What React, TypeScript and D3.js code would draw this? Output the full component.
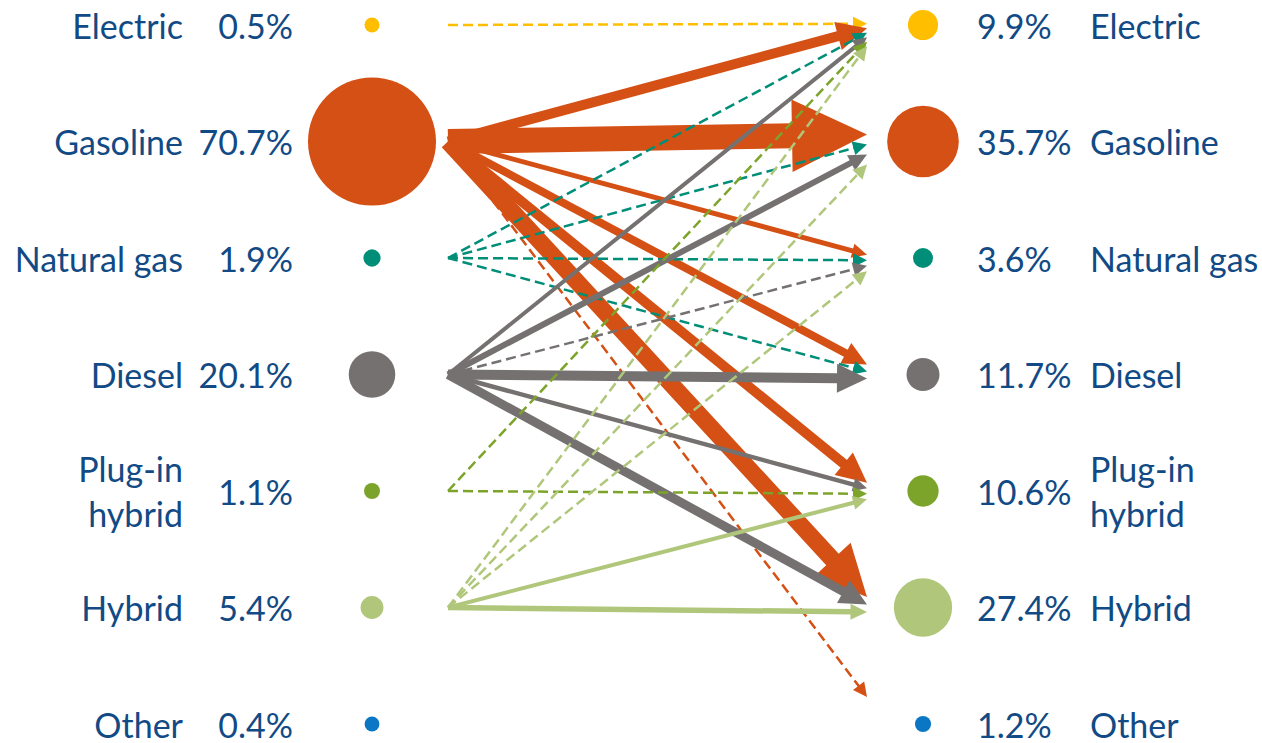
import React from "react";
import * as d3 from "d3";

// fuel categories, top to bottom
const fuels = ["Electric", "Gasoline", "Natural gas", "Diesel", "Plug-in hybrid", "Hybrid", "Other"];
const labelLines = [["Electric"], ["Gasoline"], ["Natural gas"], ["Diesel"], ["Plug-in", "hybrid"], ["Hybrid"], ["Other"]];

// share of fleet before / after
const shareBefore = [0.5, 70.7, 1.9, 20.1, 1.1, 5.4, 0.4];
const shareAfter = [9.9, 35.7, 3.6, 11.7, 10.6, 27.4, 1.2];
const shareBeforeText = ["0.5%", "70.7%", "1.9%", "20.1%", "1.1%", "5.4%", "0.4%"];
const shareAfterText = ["9.9%", "35.7%", "3.6%", "11.7%", "10.6%", "27.4%", "1.2%"];

// transitions (indices into fuels) and their relative weight; small ones are drawn dashed
const flowFrom = [0, 1, 1, 1, 1, 1, 1, 1, 2, 2, 2, 2, 3, 3, 3, 3, 3, 3, 4, 4, 5, 5, 5, 5, 5];
const flowTo = [0, 0, 1, 2, 3, 4, 5, 6, 0, 1, 2, 3, 0, 1, 2, 3, 4, 5, 0, 4, 0, 1, 2, 4, 5];
const flowWeight = [1, 10, 25, 5, 8, 10, 17, 1, 1, 1, 1, 1, 4, 6, 1, 10, 4.5, 9, 1, 1, 1, 1, 1, 4, 5.5];

const colors = ["#FFBE00", "#D55014", "#008E78", "#767171", "#7DA42A", "#B0C77B", "#0B77C4"];
const textColor = "#114A85";
const font = "Lato, 'Open Sans', sans-serif";

// where the arrow tips gather next to each target node
const tipBias = [10, 8, 5, -3, 0, -3, -27];
const tipStep = [4.5, 10, 5.5, 7, 5.5, 7.5, 0];

const W = 1262;
const H = 743;

export default function App() {
  const y = d3.scalePoint<string>().domain(fuels).range([25, 724]);
  const r = d3.scaleLinear().domain([0, 70.7]).range([7.1, 64]);
  const strokeW = d3.scaleLinear().domain([0, 25]).range([0, 25]);

  const leftCx = 372;
  const rightCx = 923;
  const srcX = 448;
  const tipX = 867;
  const fs = 34;
  const base = 13.5;

  const flows = flowFrom.map((f, i) => ({ from: f, to: flowTo[i], weight: flowWeight[i], i }));

  const arrows = flows.map((fl) => {
    const incoming = flows.filter((o) => o.to === fl.to).sort((a, b) => a.from - b.from);
    const k = incoming.indexOf(fl);
    const n = incoming.length;
    const y0 = y(fuels[fl.from])!;
    const y1 = y(fuels[fl.to])! + tipBias[fl.to] + (k - (n - 1) / 2) * tipStep[fl.to];
    const dashed = fl.weight < 2;
    const w = dashed ? 2.5 : strokeW(fl.weight);
    const headL = Math.max(14, 3 * w);
    const headW = Math.max(14, 2.9 * w);
    const dx = tipX - srcX;
    const dy = y1 - y0;
    const len = Math.hypot(dx, dy);
    const ux = dx / len;
    const uy = dy / len;
    const bx = tipX - ux * headL;
    const by = y1 - uy * headL;
    const px = -uy;
    const py = ux;
    const head = [
      [tipX, y1],
      [bx + (px * headW) / 2, by + (py * headW) / 2],
      [bx - (px * headW) / 2, by - (py * headW) / 2],
    ];
    const line = d3.line();
    return {
      key: fl.i,
      color: colors[fl.from],
      dashed,
      w,
      shaft: line([[srcX, y0], [bx + ux * 1, by + uy * 1]])!,
      head: line(head as [number, number][])! + "Z",
    };
  });

  return (
    <svg width={W} height={H} style={{ position: "absolute", left: 0, top: 0 }}>
      <rect width={W} height={H} fill="#fff" />

      {/* left column */}
      {fuels.map((f, i) => {
        const cy = y(f)!;
        const lines = labelLines[i];
        return (
          <g key={"l" + f} fontFamily={font} fontSize={fs} fill={textColor}>
            {lines.map((t, j) => (
              <text key={t} x={183} y={cy + base + (j - (lines.length - 1) / 2) * 45} textAnchor="end">
                {t}
              </text>
            ))}
            <text x={293} y={cy + base} textAnchor="end">
              {shareBeforeText[i]}
            </text>
            <circle cx={leftCx} cy={cy} r={r(shareBefore[i])} fill={colors[i]} />
          </g>
        );
      })}

      {/* transitions */}
      {arrows.map((a) => (
        <g key={a.key}>
          <path
            d={a.shaft}
            fill="none"
            stroke={a.color}
            strokeWidth={a.w}
            strokeDasharray={a.dashed ? "10 5" : undefined}
          />
          <path d={a.head} fill={a.color} />
        </g>
      ))}

      {/* right column */}
      {fuels.map((f, i) => {
        const cy = y(f)!;
        const lines = labelLines[i];
        return (
          <g key={"r" + f} fontFamily={font} fontSize={fs} fill={textColor}>
            <circle cx={rightCx} cy={cy} r={r(shareAfter[i])} fill={colors[i]} />
            <text x={977} y={cy + base}>
              {shareAfterText[i]}
            </text>
            {lines.map((t, j) => (
              <text key={t} x={1090} y={cy + base + (j - (lines.length - 1) / 2) * 45}>
                {t}
              </text>
            ))}
          </g>
        );
      })}
    </svg>
  );
}
